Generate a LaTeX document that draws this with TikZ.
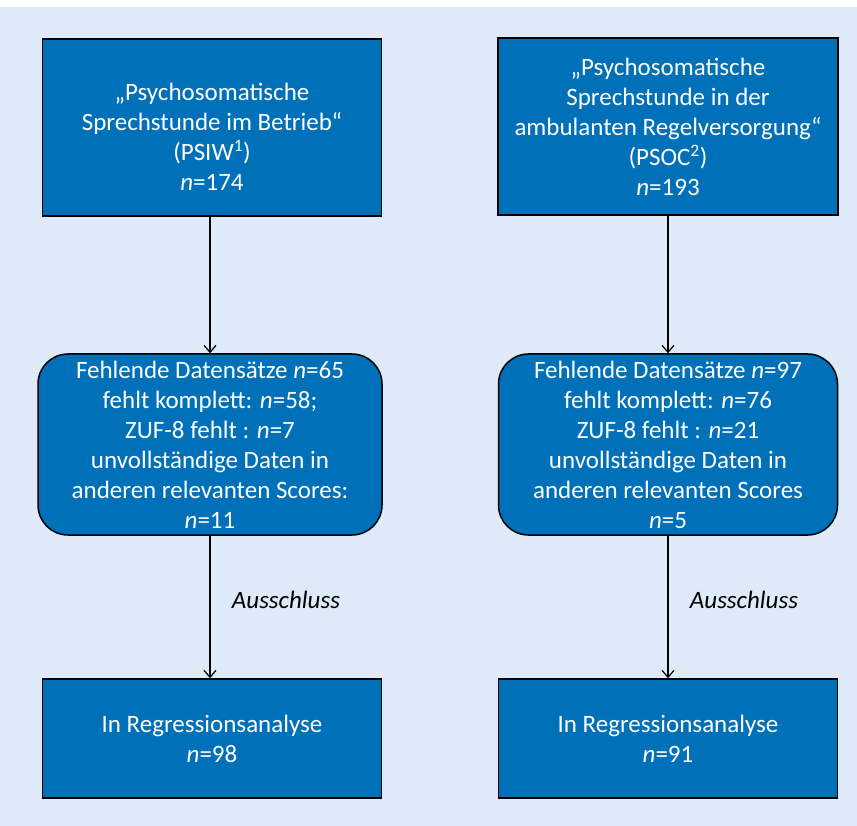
\documentclass[tikz,border=0pt]{standalone}
\usepackage{fontspec}
\setmainfont{Carlito}
\usetikzlibrary{arrows.meta,positioning}

\definecolor{boxblue}{RGB}{0,112,184}
\definecolor{paleblue}{RGB}{222,234,247}

\tikzset{
  flowbox/.style={draw=black, line width=1.5pt, fill=boxblue, text=white,
                  align=center, inner sep=0pt, font=\fontsize{25}{30}\selectfont},
  roundbox/.style={flowbox, rounded corners=30pt},
  flowarrow/.style={draw=black, line width=1.2pt,
                    -{Straight Barb[length=7pt,width=12pt,line width=1.2pt]}},
  notelabel/.style={font=\fontsize{25}{30}\selectfont\itshape}
}

\begin{document}
\begin{tikzpicture}[x=1pt,y=-1pt]
  \useasboundingbox (0,0) rectangle (857,826);
  \fill [white] (0,0) rectangle (857,826);
  \fill [paleblue] (0,7) rectangle (857,826);

  % left column
  \node [flowbox, minimum width=339pt, minimum height=177pt] (psiw) at (212,127.5)
    {\rule{0pt}{36pt}„Psychosomatische\\ Sprechstunde im Betrieb“\\ (PSIW\textsuperscript{1})\\ \textit{n}=174};
  \node [roundbox, minimum width=344pt, minimum height=181pt] (fehlL) at (210,444.5)
    {Fehlende Datensätze \textit{n}=65\\ fehlt komplett: \textit{n}=58;\\ ZUF-8 fehlt : \textit{n}=7\\
     unvollständige Daten in\\ anderen relevanten Scores:\\ \textit{n}=11};
  \node [flowbox, minimum width=339pt, minimum height=119pt] (regL) at (212,738.5)
    {In Regressionsanalyse\\ \textit{n}=98};

  % right column
  \node [flowbox, minimum width=340pt, minimum height=177pt] (psoc) at (668,126.5)
    {„Psychosomatische\\ Sprechstunde in der\\ ambulanten Regelversorgung“\\ (PSOC\textsuperscript{2})\\ \textit{n}=193};
  \node [roundbox, minimum width=339pt, minimum height=181pt] (fehlR) at (668,444.5)
    {Fehlende Datensätze \textit{n}=97\\ fehlt komplett: \textit{n}=76\\ ZUF-8 fehlt : \textit{n}=21\\
     unvollständige Daten in\\ anderen relevanten Scores\\ \textit{n}=5};
  \node [flowbox, minimum width=339pt, minimum height=119pt] (regR) at (668,738.5)
    {In Regressionsanalyse\\ \textit{n}=91};

  % arrows
  \draw [flowarrow] (psiw.south -| fehlL) -- (fehlL);
  \draw [flowarrow] (fehlL) -- (regL.north -| fehlL)
    node [notelabel, pos=0.45, right=18pt] (exL) {Ausschluss};
  \draw [flowarrow] (psoc) -- (fehlR);
  \draw [flowarrow] (fehlR) -- (regR)
    node [notelabel, pos=0.45, right=18pt] (exR) {Ausschluss};
\end{tikzpicture}
\end{document}
